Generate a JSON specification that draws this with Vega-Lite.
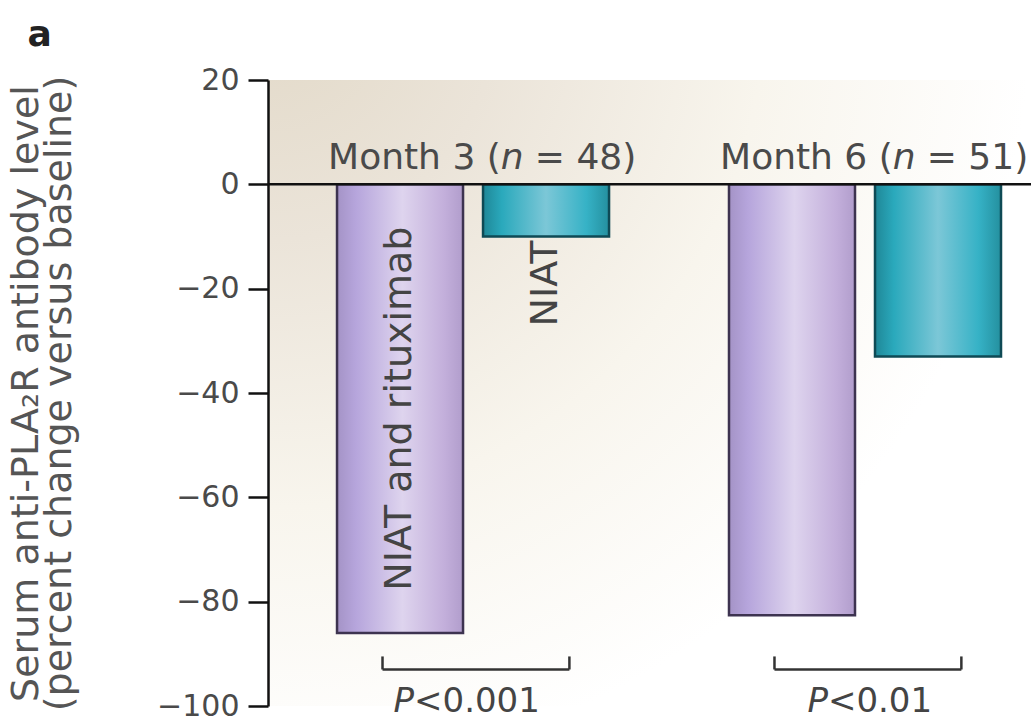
{
  "$schema": "https://vega.github.io/schema/vega-lite/v6.json",
  "width": 763,
  "height": 626,
  "autosize": {"type": "none"},
  "padding": {"left": 268, "top": 80, "right": 0, "bottom": 16},
  "background": "white",
  "config": {
    "font": "DejaVu Sans",
    "view": {
      "stroke": null,
      "fill": {
        "gradient": "radial",
        "x1": 0, "y1": 0, "r1": 0,
        "x2": 0, "y2": 0, "r2": 1,
        "stops": [
          {"offset": 0, "color": "#e2d9c8"},
          {"offset": 0.3, "color": "#ebe4d9"},
          {"offset": 0.65, "color": "#f8f5ed"},
          {"offset": 1, "color": "#ffffff"}
        ]
      }
    }
  },
  "title": {
    "text": "a",
    "anchor": "start",
    "frame": "bounds",
    "fontSize": 36,
    "fontWeight": "bold",
    "color": "#222222",
    "dx": 20,
    "offset": 11
  },
  "datasets": {
    "bars": [
      {"month": "Month 3 (n = 48)", "group": "NIAT and rituximab", "value": -86},
      {"month": "Month 3 (n = 48)", "group": "NIAT", "value": -10},
      {"month": "Month 6 (n = 51)", "group": "NIAT and rituximab", "value": -82.6},
      {"month": "Month 6 (n = 51)", "group": "NIAT", "value": -33}
    ],
    "barLabels": [
      {"month": "Month 3 (n = 48)", "group": "NIAT and rituximab", "label": "NIAT and rituximab", "value": -43},
      {"month": "Month 3 (n = 48)", "group": "NIAT", "label": "NIAT", "value": -19}
    ],
    "months": [
      {"month": "Month 3 (n = 48)", "head": "Month 3 (", "n": "n", "tail": "= 48)", "value": 5},
      {"month": "Month 6 (n = 51)", "head": "Month 6 (", "n": "n", "tail": "= 51)", "value": 5}
    ],
    "brackets": [
      {"month": "Month 3 (n = 48)", "value": -93, "top": -90.5, "p": "P", "rest": "<0.001", "ptext": -99.2},
      {"month": "Month 6 (n = 51)", "value": -93, "top": -90.5, "p": "P", "rest": "<0.01", "ptext": -99.2}
    ]
  },
  "encoding": {
    "x": {
      "field": "month",
      "type": "nominal",
      "sort": null,
      "axis": null,
      "scale": {"paddingInner": 0.255, "paddingOuter": 0.1008, "align": 0.747}
    }
  },
  "layer": [
    {
      "data": {"name": "bars"},
      "transform": [{"filter": "datum.group === 'NIAT and rituximab'"}],
      "mark": {
        "type": "bar",
        "stroke": "#3d3350",
        "strokeWidth": 2.5,
        "fill": {
          "gradient": "linear", "x1": 0, "y1": 0, "x2": 1, "y2": 0,
          "stops": [
            {"offset": 0, "color": "#a493c6"},
            {"offset": 0.15, "color": "#b6a5dc"},
            {"offset": 0.52, "color": "#ded4ee"},
            {"offset": 0.85, "color": "#c3afdb"},
            {"offset": 1, "color": "#b19dcc"}
          ]
        }
      },
      "encoding": {
        "xOffset": {"field": "group", "type": "nominal", "sort": ["NIAT and rituximab", "NIAT"], "scale": {"domain": ["NIAT and rituximab", "NIAT"], "paddingInner": 0.137, "paddingOuter": 0.0685}},
        "y": {
          "field": "value",
          "type": "quantitative",
          "scale": {"domain": [-100, 20], "nice": false},
          "axis": {
            "values": [20, 0, -20, -40, -60, -80, -100],
            "grid": false,
            "domainColor": "#111111",
            "domainWidth": 2.5,
            "tickColor": "#111111",
            "tickWidth": 2.5,
            "tickSize": 20,
            "labelFontSize": 30,
            "labelColor": "#4a4a4a",
            "labelPadding": 9,
            "title": ["Serum anti-PLA₂R antibody level", "(percent change versus baseline)"],
            "titleFontSize": 38,
            "titleFontWeight": "normal",
            "titleColor": "#555555",
            "titleLineHeight": 33,
            "titlePadding": 78
          }
        }
      }
    },
    {
      "data": {"name": "bars"},
      "transform": [{"filter": "datum.group === 'NIAT'"}],
      "mark": {
        "type": "bar",
        "stroke": "#0e4a55",
        "strokeWidth": 2.5,
        "fill": {
          "gradient": "linear", "x1": 0, "y1": 0, "x2": 1, "y2": 0,
          "stops": [
            {"offset": 0, "color": "#1f8797"},
            {"offset": 0.15, "color": "#2aa9bc"},
            {"offset": 0.5, "color": "#7cc7d7"},
            {"offset": 0.82, "color": "#36b2c6"},
            {"offset": 1, "color": "#24909f"}
          ]
        }
      },
      "encoding": {
        "xOffset": {"field": "group", "type": "nominal", "sort": ["NIAT and rituximab", "NIAT"]},
        "y": {"field": "value", "type": "quantitative"}
      }
    },
    {
      "data": {"values": [{}]},
      "mark": {"type": "rule", "stroke": "#111111", "strokeWidth": 2.5},
      "encoding": {"x": null, "y": {"datum": 0}}
    },
    {
      "data": {"name": "barLabels"},
      "mark": {"type": "text", "angle": 270, "align": "center", "baseline": "middle", "fontSize": 38, "color": "#444444"},
      "encoding": {
        "xOffset": {"field": "group", "type": "nominal", "sort": ["NIAT and rituximab", "NIAT"]},
        "y": {"field": "value", "type": "quantitative"},
        "text": {"field": "label"}
      }
    },
    {
      "data": {"name": "months"},
      "mark": {"type": "text", "align": "right", "baseline": "middle", "fontSize": 36, "color": "#4a4a4a"},
      "encoding": {
        "x": {"field": "month", "type": "nominal", "sort": null, "bandPosition": 0.595},
        "y": {"field": "value", "type": "quantitative"},
        "text": {"field": "head"}
      }
    },
    {
      "data": {"name": "months"},
      "mark": {"type": "text", "align": "left", "baseline": "middle", "fontSize": 36, "fontStyle": "italic", "color": "#4a4a4a"},
      "encoding": {
        "x": {"field": "month", "type": "nominal", "sort": null, "bandPosition": 0.595},
        "y": {"field": "value", "type": "quantitative"},
        "text": {"field": "n"}
      }
    },
    {
      "data": {"name": "months"},
      "mark": {"type": "text", "align": "left", "baseline": "middle", "fontSize": 36, "color": "#4a4a4a", "dx": 34},
      "encoding": {
        "x": {"field": "month", "type": "nominal", "sort": null, "bandPosition": 0.595},
        "y": {"field": "value", "type": "quantitative"},
        "text": {"field": "tail"}
      }
    },
    {
      "data": {"name": "brackets"},
      "mark": {"type": "rule", "stroke": "#333333", "strokeWidth": 2.5},
      "encoding": {
        "x": {"field": "month", "type": "nominal", "sort": null, "bandPosition": 0.19},
        "x2": {"field": "month", "bandPosition": 0.83},
        "y": {"field": "value", "type": "quantitative"}
      }
    },
    {
      "data": {"name": "brackets"},
      "mark": {"type": "rule", "stroke": "#333333", "strokeWidth": 2.5},
      "encoding": {
        "x": {"field": "month", "type": "nominal", "sort": null, "bandPosition": 0.19},
        "y": {"field": "value", "type": "quantitative"},
        "y2": {"field": "top"}
      }
    },
    {
      "data": {"name": "brackets"},
      "mark": {"type": "rule", "stroke": "#333333", "strokeWidth": 2.5},
      "encoding": {
        "x": {"field": "month", "type": "nominal", "sort": null, "bandPosition": 0.83},
        "y": {"field": "value", "type": "quantitative"},
        "y2": {"field": "top"}
      }
    },
    {
      "data": {"name": "brackets"},
      "transform": [{"filter": "datum.rest === '<0.001'"}],
      "mark": {"type": "text", "align": "right", "baseline": "middle", "fontSize": 34, "fontStyle": "italic", "color": "#444444"},
      "encoding": {
        "x": {"field": "month", "type": "nominal", "sort": null, "bandPosition": 0.298},
        "y": {"field": "ptext", "type": "quantitative"},
        "text": {"field": "p"}
      }
    },
    {
      "data": {"name": "brackets"},
      "transform": [{"filter": "datum.rest === '<0.001'"}],
      "mark": {"type": "text", "align": "left", "baseline": "middle", "fontSize": 34, "color": "#444444"},
      "encoding": {
        "x": {"field": "month", "type": "nominal", "sort": null, "bandPosition": 0.298},
        "y": {"field": "ptext", "type": "quantitative"},
        "text": {"field": "rest"}
      }
    },
    {
      "data": {"name": "brackets"},
      "transform": [{"filter": "datum.rest === '<0.01'"}],
      "mark": {"type": "text", "align": "right", "baseline": "middle", "fontSize": 34, "fontStyle": "italic", "color": "#444444"},
      "encoding": {
        "x": {"field": "month", "type": "nominal", "sort": null, "bandPosition": 0.373},
        "y": {"field": "ptext", "type": "quantitative"},
        "text": {"field": "p"}
      }
    },
    {
      "data": {"name": "brackets"},
      "transform": [{"filter": "datum.rest === '<0.01'"}],
      "mark": {"type": "text", "align": "left", "baseline": "middle", "fontSize": 34, "color": "#444444"},
      "encoding": {
        "x": {"field": "month", "type": "nominal", "sort": null, "bandPosition": 0.373},
        "y": {"field": "ptext", "type": "quantitative"},
        "text": {"field": "rest"}
      }
    }
  ]
}
